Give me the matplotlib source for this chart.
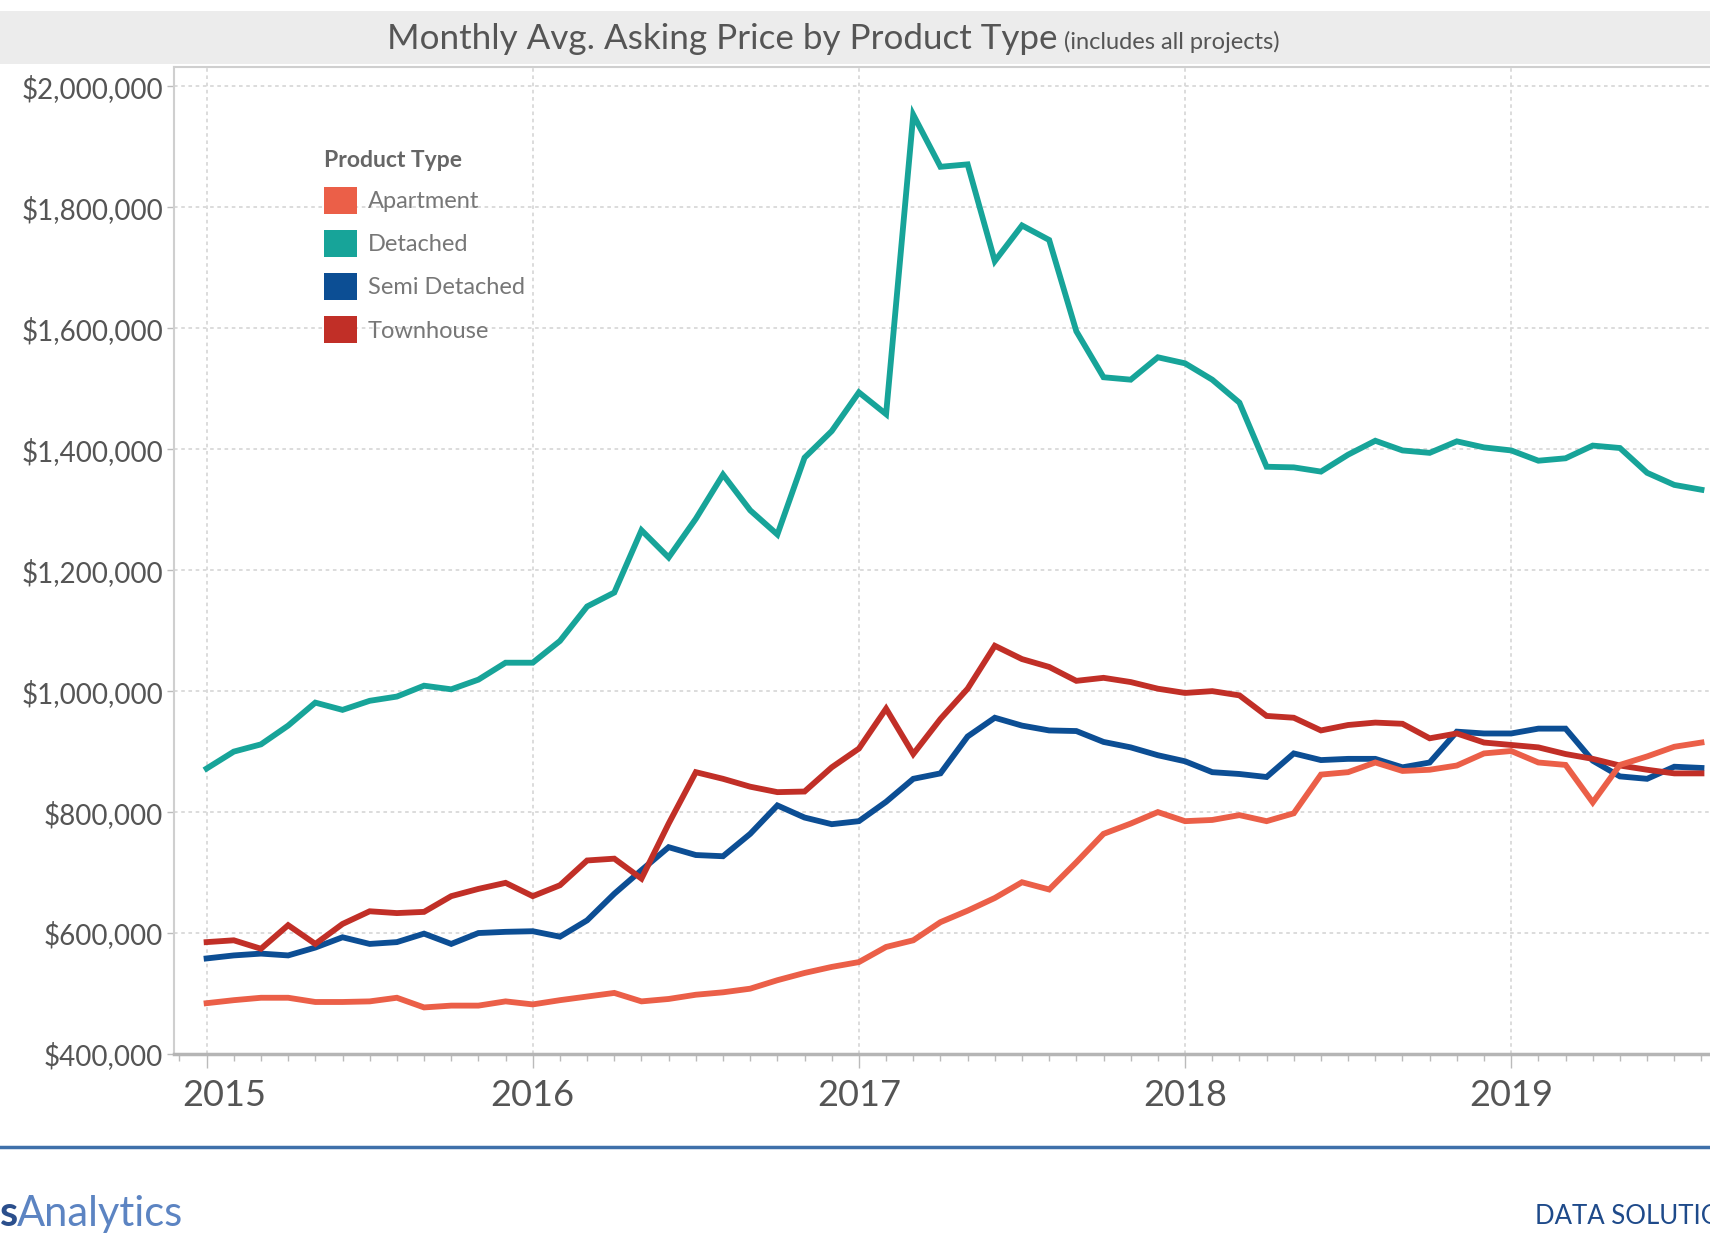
"""
Monthly average asking price by product type, Jan 2015 - Aug 2019.
"""

import numpy as np
import matplotlib.pyplot as plt
import matplotlib.transforms as mtransforms
from matplotlib.patches import Patch, Rectangle
from matplotlib.lines import Line2D
from matplotlib.ticker import FuncFormatter, MultipleLocator

plt.rcParams.update({
    'font.family': ['Lato', 'DejaVu Sans'],
    'font.size': 14,
})

COLORS = {
    'Apartment': '#EB5F48',
    'Detached': '#17A499',
    'Semi Detached': '#0C4E94',
    'Townhouse': '#C12F27',
    'text': '#555555',
    'grid': '#D9D9D9',
    'band': '#ECECEC',
    'footer': '#3F70AA',
}

START_YEAR = 2015
PRODUCT_TYPES = ['Apartment', 'Detached', 'Semi Detached', 'Townhouse']
YEAR_TICKS = [2015, 2016, 2017, 2018, 2019]
PRICE_TICKS = [400000, 600000, 800000, 1000000, 1200000, 1400000,
               1600000, 1800000, 2000000]

# monthly averages in $ thousands, Jan 2015 .. Aug 2019
apartment = [484, 489, 493, 493, 486, 486, 487, 493, 477, 480, 480, 487,
             482, 489, 495, 501, 487, 491, 498, 502, 508, 522, 534, 544,
             552, 577, 588, 618, 637, 658, 684, 672, 717, 764, 781, 800,
             785, 787, 795, 785, 798, 862, 866, 882, 868, 870, 877, 897,
             901, 882, 878, 816, 878, 892, 908, 915]

detached = [872, 900, 912, 943, 981, 969, 984, 991, 1009, 1003, 1019, 1047,
            1047, 1083, 1140, 1163, 1266, 1221, 1285, 1358, 1299, 1259, 1386, 1430,
            1494, 1458, 1953, 1867, 1871, 1711, 1770, 1746, 1595, 1519, 1515, 1552,
            1542, 1515, 1477, 1371, 1370, 1363, 1391, 1414, 1398, 1394, 1413, 1403,
            1398, 1381, 1385, 1406, 1402, 1361, 1341, 1333]

semi_detached = [558, 563, 566, 563, 576, 593, 582, 585, 599, 582, 600, 602,
                 603, 594, 621, 665, 704, 742, 729, 727, 764, 811, 791, 780,
                 785, 817, 855, 864, 925, 956, 943, 935, 934, 916, 907, 894,
                 884, 866, 863, 858, 897, 886, 888, 888, 874, 882, 933, 930,
                 930, 938, 938, 885, 859, 855, 875, 873]

townhouse = [585, 588, 574, 613, 582, 615, 636, 633, 635, 661, 673, 683,
             661, 679, 720, 723, 690, 781, 866, 855, 842, 833, 834, 874,
             905, 971, 896, 954, 1004, 1075, 1053, 1040, 1017, 1022, 1015, 1004,
             997, 1000, 993, 959, 956, 935, 944, 948, 946, 922, 930, 915,
             911, 907, 896, 888, 877, 870, 864, 864]


def main():
    W, H = 1710, 1248
    fig = plt.figure(figsize=(W / 100, H / 100), dpi=100)

    # title band
    fig.patches.append(Rectangle((0, 1 - 64 / H), 1, 53 / H, transform=fig.transFigure,
                                 facecolor=COLORS['band'], edgecolor='none', zorder=0))
    fig.text(387 / W, 1 - 49 / H, 'Monthly Avg. Asking Price by Product Type',
             fontsize=25.2, color=COLORS['text'], ha='left', va='baseline')
    fig.text(1064 / W, 1 - 49 / H, '(includes all projects)',
             fontsize=17, color=COLORS['text'], ha='left', va='baseline')

    ax = fig.add_axes([174 / W, 1 - 1054 / H, 1 - 174 / W + 0.002, (1054 - 67) / H])

    series = {
        'Detached': detached,
        'Semi Detached': semi_detached,
        'Townhouse': townhouse,
        'Apartment': apartment,
    }
    for name, vals in series.items():
        vals = np.array(vals) * 1000
        x = START_YEAR + np.arange(len(vals)) / 12
        ax.plot(x, vals, color=COLORS[name], linewidth=4.2, solid_joinstyle='miter',
                zorder=3)

    ax.set_xlim(2014.9, 2019.62)
    ax.set_ylim(400000, 2032000)

    ax.set_yticks(PRICE_TICKS)
    ax.yaxis.set_major_formatter(FuncFormatter(lambda v, p: f'${v:,.0f}'))
    ax.set_xticks(YEAR_TICKS)
    ax.set_xticklabels([str(y) for y in YEAR_TICKS])
    ax.xaxis.set_minor_locator(MultipleLocator(1 / 12))

    ax.grid(True, which='major', color=COLORS['grid'], linestyle=(0, (2, 2)),
            linewidth=1.3, zorder=0)
    ax.tick_params(axis='y', which='major', length=5, width=1, color='#BBBBBB',
                   labelsize=20, labelcolor=COLORS['text'], pad=3)
    ax.tick_params(axis='x', which='major', length=10, width=1, color='#BBBBBB',
                   labelsize=26, labelcolor=COLORS['text'], pad=8)
    ax.tick_params(axis='x', which='minor', length=5, width=1, color='#BBBBBB')

    # first year label sits a little right of its tick, as in the original
    first = ax.get_xticklabels()[0]
    first.set_transform(first.get_transform() +
                        mtransforms.ScaledTranslation(18 / 100, 0, fig.dpi_scale_trans))

    for side in ['left', 'top']:
        ax.spines[side].set_color('#CFCFCF')
        ax.spines[side].set_linewidth(1.5)
    ax.spines['bottom'].set_color('#B5B5B5')
    ax.spines['bottom'].set_linewidth(2.5)
    ax.spines['right'].set_visible(False)

    # legend
    handles = [Patch(facecolor=COLORS[t], edgecolor='none', label=t)
               for t in PRODUCT_TYPES]
    leg = ax.legend(handles=handles, title='Product Type', loc='upper left',
                    bbox_to_anchor=(324 / W, 1 - 150 / H), bbox_transform=fig.transFigure,
                    frameon=False, fontsize=17, title_fontsize=16.5,
                    handlelength=1.4, handleheight=1.4, handletextpad=0.45,
                    labelspacing=0.67, borderpad=0, borderaxespad=0,
                    alignment='left')
    leg.get_title().set_color('#666666')
    leg.get_title().set_fontweight('bold')
    for t in leg.get_texts():
        t.set_color('#777777')

    # footer
    fig.add_artist(Line2D([0, 1], [1 - 1147 / H, 1 - 1147 / H], transform=fig.transFigure,
                          color=COLORS['footer'], linewidth=2.5))
    fig.text(0, 1 - 1214 / H, 's', fontsize=30, color='#2B4F8C', fontweight='bold',
             ha='left', va='center')
    fig.text(17 / W, 1 - 1214 / H, 'Analytics', fontsize=30, color='#5C84C2',
             ha='left', va='center')
    fig.text(1535 / W, 1 - 1216 / H, 'DATA SOLUTIONS', fontsize=18.5, color='#1E4A8A',
             ha='left', va='center')

    fig.savefig('out.png', dpi=100, facecolor='white')
    plt.close(fig)


if __name__ == '__main__':
    main()
